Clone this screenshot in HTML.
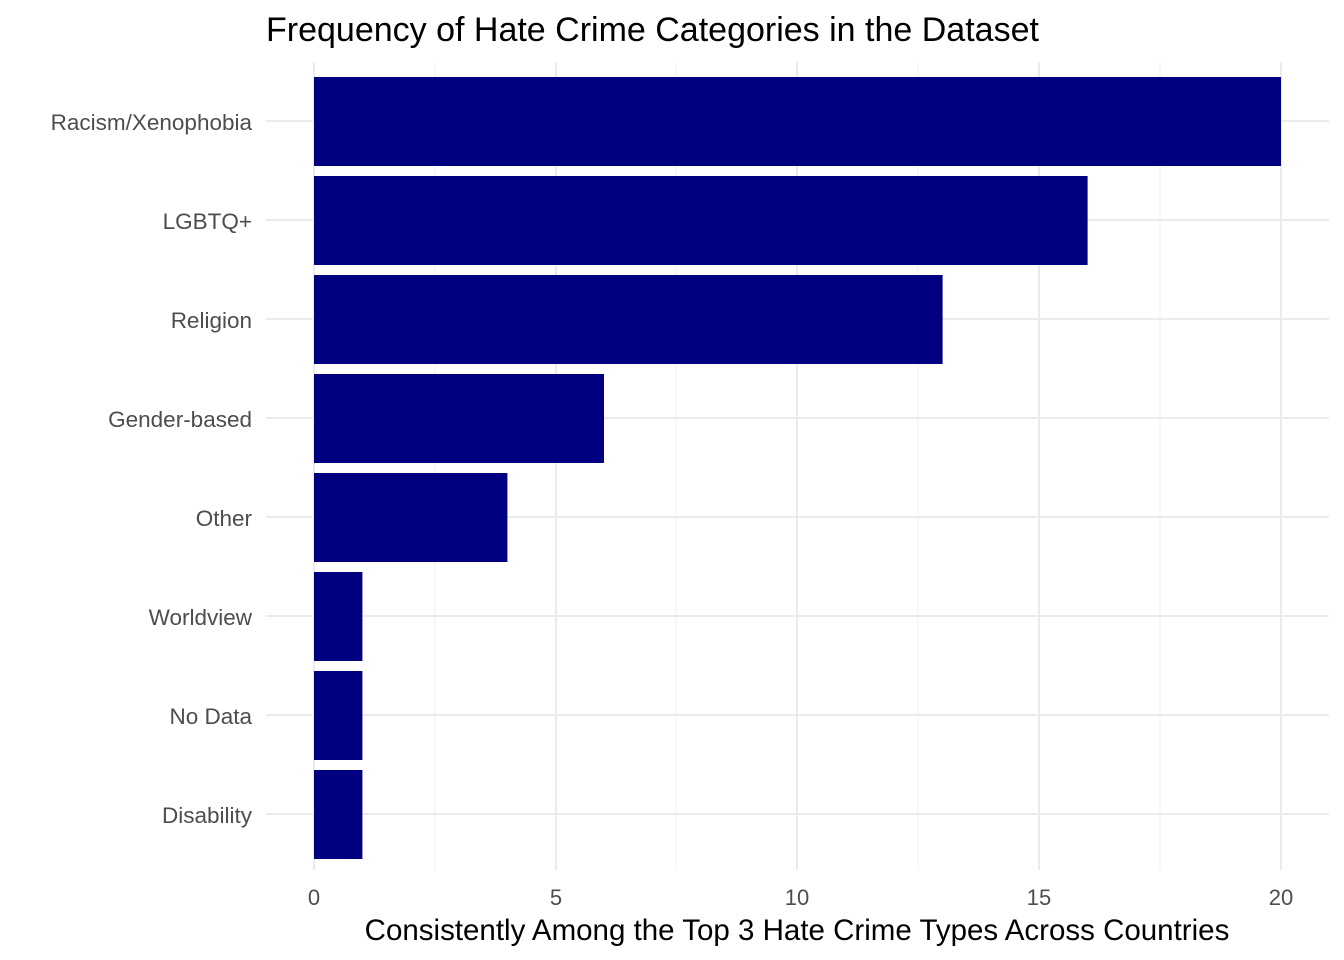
<!DOCTYPE html>
<html><head><meta charset="utf-8"><style>
html,body{margin:0;padding:0;background:#fff}
svg{display:block}
text{font-family:"Liberation Sans",Arial,sans-serif}
</style></head><body>
<svg width="1344" height="960" viewBox="0 0 1344 960" xmlns="http://www.w3.org/2000/svg">
<rect width="1344" height="960" fill="#fff"/>
<g stroke="#f2f2f2" stroke-width="1.2">
<line x1="435" y1="62" x2="435" y2="870"/>
<line x1="676" y1="62" x2="676" y2="870"/>
<line x1="918" y1="62" x2="918" y2="870"/>
<line x1="1160" y1="62" x2="1160" y2="870"/>
</g>
<g stroke="#ebebeb" stroke-width="2">
<line x1="314" y1="62" x2="314" y2="870"/>
<line x1="556" y1="62" x2="556" y2="870"/>
<line x1="797" y1="62" x2="797" y2="870"/>
<line x1="1039" y1="62" x2="1039" y2="870"/>
<line x1="1281" y1="62" x2="1281" y2="870"/>
<line x1="266" y1="121" x2="1329" y2="121"/>
<line x1="266" y1="220" x2="1329" y2="220"/>
<line x1="266" y1="319" x2="1329" y2="319"/>
<line x1="266" y1="418" x2="1329" y2="418"/>
<line x1="266" y1="517" x2="1329" y2="517"/>
<line x1="266" y1="616" x2="1329" y2="616"/>
<line x1="266" y1="715" x2="1329" y2="715"/>
<line x1="266" y1="814" x2="1329" y2="814"/>
</g>
<g fill="#000080">
<rect x="314" y="77" width="967" height="89"/>
<rect x="314" y="176" width="773.6" height="89"/>
<rect x="314" y="275" width="628.6" height="89"/>
<rect x="314" y="374" width="290" height="89"/>
<rect x="314" y="473" width="193.4" height="89"/>
<rect x="314" y="572" width="48.4" height="89"/>
<rect x="314" y="671" width="48.4" height="89"/>
<rect x="314" y="770" width="48.4" height="89"/>
</g>
<g fill="#4d4d4d" font-size="22.5" text-anchor="end">
<text x="252" y="130">Racism/Xenophobia</text>
<text x="252" y="229">LGBTQ+</text>
<text x="252" y="328">Religion</text>
<text x="252" y="427">Gender-based</text>
<text x="252" y="526">Other</text>
<text x="252" y="625">Worldview</text>
<text x="252" y="724">No Data</text>
<text x="252" y="823">Disability</text>
</g>
<g fill="#4d4d4d" font-size="22" text-anchor="middle">
<text x="314" y="905">0</text>
<text x="556" y="905">5</text>
<text x="797" y="905">10</text>
<text x="1039" y="905">15</text>
<text x="1281" y="905">20</text>
</g>
<text x="797" y="940" font-size="29.5" text-anchor="middle" fill="#000">Consistently Among the Top 3 Hate Crime Types Across Countries</text>
<text x="266" y="41" font-size="34" fill="#000">Frequency of Hate Crime Categories in the Dataset</text>
</svg>
</body></html>
